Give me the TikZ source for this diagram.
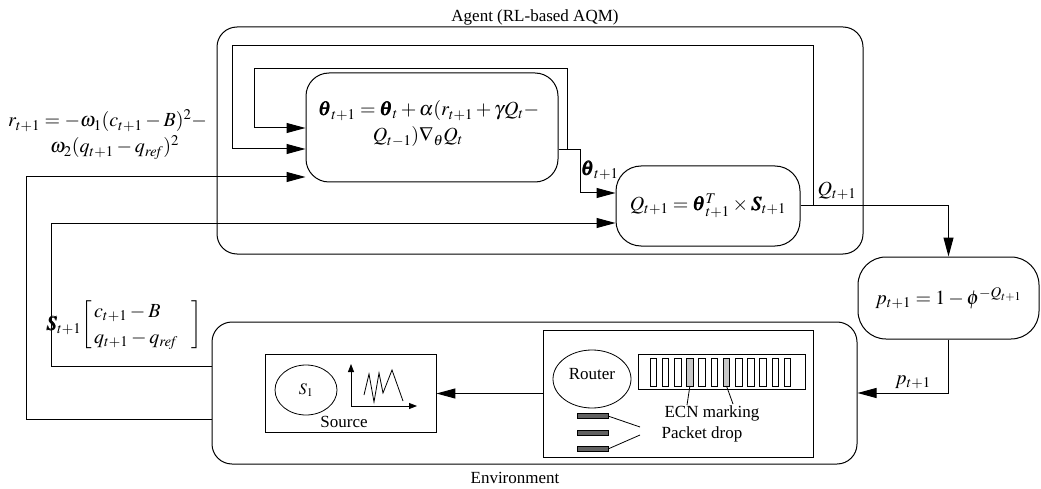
\documentclass[tikz,border=0pt]{standalone}
\usepackage{amsmath}
\usepackage{mathptmx}
\usepackage{bm}
\usepackage{fontspec}
\setmainfont{Liberation Serif}
\usetikzlibrary{arrows.meta,calc,shapes.geometric}
\newcommand{\btheta}{\pmb{\theta}}
\tikzset{
  box/.style={draw, line width=1pt, rounded corners=22pt, inner sep=0pt},
  sq/.style={draw, line width=0.8pt, inner sep=0pt},
  arr/.style={-{Triangle[length=19pt,width=10pt]}, line width=1pt},
  smarr/.style={{Triangle[length=8pt,width=6pt]}-{Triangle[length=8pt,width=6pt]}, line width=0.8pt},
  ln/.style={line width=0.8pt},
  mth/.style={font=\fontsize{20}{26}\selectfont, inner sep=0pt},
  tight/.style={text height=12pt, text depth=3pt},
  lbl/.style={font=\fontsize{17}{20}\selectfont, inner sep=0pt},
}
\begin{document}
\begin{tikzpicture}[x=1pt,y=-1pt]
\useasboundingbox (0,0) rectangle (1041,489);
% Agent
\node[box, rounded corners=20pt, minimum width=646pt, minimum height=227pt] (agent) at (540,140.5) {};
\node[lbl] (agentlbl) at (535,17) {Agent (RL-based AQM)};
\node[box, rounded corners=23pt, minimum width=252pt, minimum height=109pt] (theta) at (432,127.5) {};
\node[mth, tight, anchor=base] (th1) at (429,116) {$\btheta_{t+1} = \btheta_t + \alpha(r_{t+1} + \gamma Q_t -$};
\node[mth, tight, anchor=base] (th2) at (418,142) {$Q_{t-1})\nabla_{\theta} Q_t$};
\node[box, rounded corners=25pt, minimum width=184pt, minimum height=80pt, mth] (Q) at (708,206) {$Q_{t+1} = \btheta^T_{t+1}\times \bm{S}_{t+1}$};
\node[box, rounded corners=28pt, minimum width=181pt, minimum height=82pt, mth] (p) at (948.5,298) {$p_{t+1} = 1-\phi^{-Q_{t+1}}$};
% Environment
\node[box, rounded corners=20pt, minimum width=645pt, minimum height=142pt] (env) at (534.5,393) {};
\node[lbl] (envlbl) at (515,478) {Environment};
\node[sq, minimum width=171pt, minimum height=78pt] (source) at (350.5,393) {};
\node[draw, ln, ellipse, minimum width=62pt, minimum height=50pt, inner sep=0pt, font=\fontsize{16}{18}\selectfont] (s1) at (306,390) {$S_1$};
\draw[smarr] (351,364) -- (351,406) -- (417,406);
\draw[ln] (364,395) -- (369,374) -- (374,402) -- (379,373) -- (383,393) -- (392,370) -- (403,401);
\node[lbl] (srclbl) at (344,422) {Source};
\node[sq, minimum width=270pt, minimum height=127pt] (router) at (678,393.5) {};
\node[draw, ln, ellipse, minimum width=78pt, minimum height=58pt, inner sep=0pt] (rt) at (592,379) {};
\node[lbl] (rtlbl) at (592,374) {Router};
\node[sq, minimum width=167pt, minimum height=35pt] (queue) at (721.5,371.5) {};
\foreach \i in {0,...,11}{
  \pgfmathsetmacro{\xl}{650+\i*12.2}
  \ifnum\i=3 \def\fc{black!22}\else\ifnum\i=6 \def\fc{black!22}\else\def\fc{white}\fi\fi
  \draw[ln, fill=\fc] (\xl,358) rectangle ++(6.5,28);
}
\draw[ln] (689.9,386) -- (687,405);
\draw[ln] (726.5,386) -- (733,404);
\node[lbl] (ecn) at (712,413) {ECN marking};
\node[lbl] (pdrop) at (702,434) {Packet drop};
\foreach \y in {413,430,446}{
  \draw[ln, fill=black!62] (577,\y) rectangle ++(31,5.5);
}
\draw[ln] (608,416) -- (640,427);
\draw[ln] (608,449) -- (640,435);
% labels
\node[mth, tight, anchor=base west] (r1) at (8,127) {$r_{t+1} = -\omega_1(c_{t+1}-B)^2 -$};
\node[mth, tight, anchor=base west] (r2) at (50,153) {$\omega_2(q_{t+1}-q_{\mathit{ref}})^2$};
\node[mth] (slbl) at (124,325) {$\bm{S}_{t+1}\!\left[\begin{array}{@{\,}l@{\;\;\;}}c_{t+1}-B\\ q_{t+1}-q_{\mathit{ref}}\end{array}\right]$};
\node[mth] (thlbl) at (600,170) {$\btheta_{t+1}$};
\node[mth] (qlbl) at (837,191) {$Q_{t+1}$};
\node[mth] (plbl) at (913,382) {$p_{t+1}$};
% connectors
\coordinate (b1) at (580,150);
\coordinate (b2) at (567,150);
\coordinate (b6) at (813,206);
\draw[arr] (theta.east |- b1) -- (b1) |- (Q.west |- 0,193);
\draw[arr] (b2) |- (254,69) |- (theta.west |- 0,128);
\draw[arr] (b6) |- (232,46) |- (theta.west |- 0,149);
\draw[arr] (Q.east) -| (p.north);
\draw[arr] (p.south) |- (env.east);
\draw[arr] (router.west) -- (source.east |- router.west);
\draw[arr] (env.west |- 0,419) -| (26,177) -- (theta.west |- 0,177);
\draw[arr] (env.west |- 0,366) -| (51,223) -- (Q.west |- 0,223);
\end{tikzpicture}
\end{document}
